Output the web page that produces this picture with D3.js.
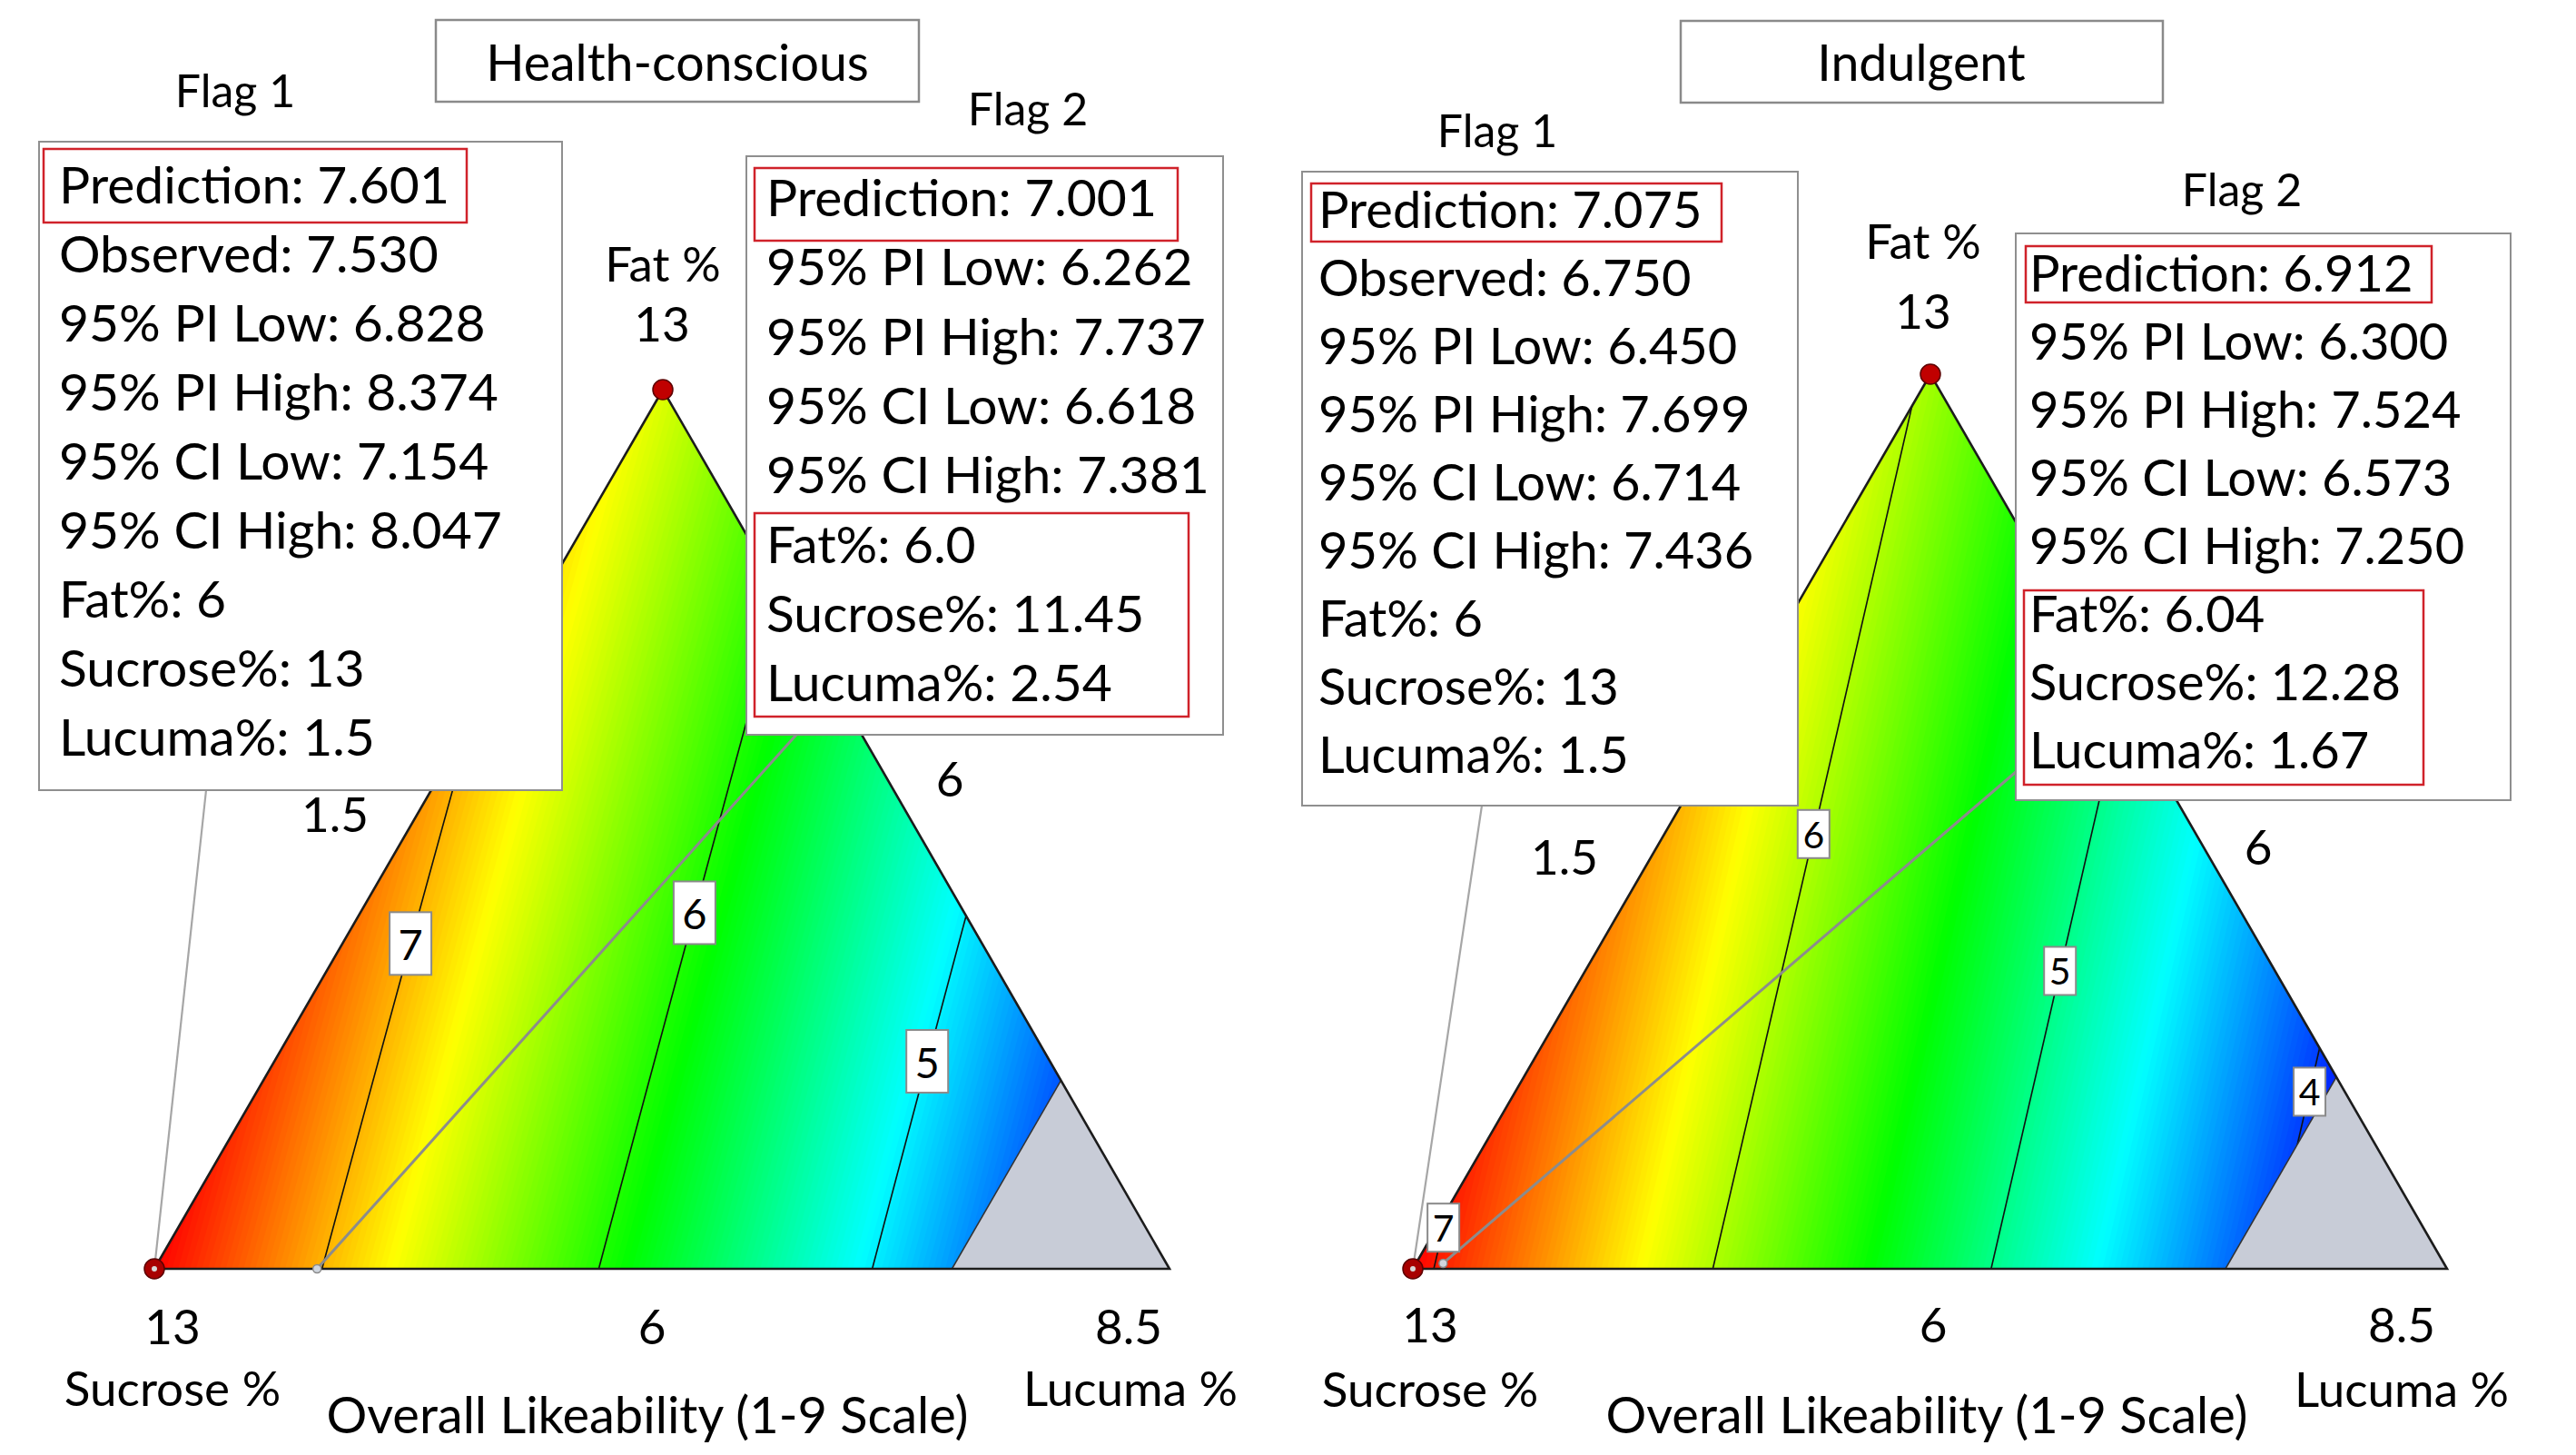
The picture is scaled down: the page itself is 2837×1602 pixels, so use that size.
<!DOCTYPE html>
<html>
<head>
<meta charset="utf-8">
<script src="https://cdn.jsdelivr.net/npm/d3@7"></script>
<style>
  body { margin: 0; background: #fff; }
  text { font-family: Lato, "Open Sans", sans-serif; fill: #000; }
</style>
</head>
<body>
<svg id="chart" width="2837" height="1602"></svg>
<script>
/* Mixture contour plots: Overall Likeability for two consumer segments */

// ---- data ----
var components = ["Fat", "Sucrose", "Lucuma"];
var compMin = [6, 6, 1.5];
var compMax = [13, 13, 8.5];
var lucumaLimit = 7;                       // design constraint, grey beyond it
var responseName = "Overall Likeability (1-9 Scale)";
var statNames = ["Prediction", "Observed", "95% PI Low", "95% PI High", "95% CI Low", "95% CI High"];

// Health-conscious: predicted likeability at pure blends (Fat, Sucrose, Lucuma) and binary midpoints
var hcBlend = [6.64, 7.60, 3.90];
var hcBinary = [7.12, 5.77, 5.27];         // Fat-Sucrose, Sucrose-Lucuma, Fat-Lucuma
var hcColorRange = [4.2, 7.60];            // blue .. red
var hcLevels = [7, 6, 5];
var hcFlag1Stats = [7.601, 7.530, 6.828, 8.374, 7.154, 8.047];
var hcFlag1Mix = [6, 13, 1.5];
var hcFlag2Stats = [7.001, null, 6.262, 7.737, 6.618, 7.381];
var hcFlag2Mix = [6.0, 11.45, 2.54];

// Indulgent
var inBlend = [5.96, 7.075, 3.356];
var inBinary = [6.52, 5.22, 4.66];
var inColorRange = [3.80, 7.075];
var inLevels = [7, 6, 5, 4];
var inFlag1Stats = [7.075, 6.750, 6.450, 7.699, 6.714, 7.436];
var inFlag1Mix = [6, 13, 1.5];
var inFlag2Stats = [6.912, null, 6.300, 7.524, 6.573, 7.250];
var inFlag2Mix = [6.04, 12.28, 1.67];

// ---- layout (pixels) ----
var hcLayout = {
  tri: [[730, 429], [170, 1397], [1288, 1397]],   // Fat apex, Sucrose, Lucuma
  labelRise: [0.37, 0.405, 0.236], labelBox: [46, 69], labelFont: 47,
  boxFont: 57,
  title: {box: [480, 22, 532, 90], x: 746, y: 89},
  flags: [
    {name: [259, 118], box: [43, 156, 576, 714], textX: 65, y0: 224, dy: 76,
     red: [[48, 164, 466, 81]], anchor: [227, 870], dec: [0, 0, 1]},
    {name: [1132, 138], box: [822, 172, 525, 637], textX: 844, y0: 238, dy: 76.3,
     red: [[831, 185, 466, 80], [831, 565, 478, 224]], anchor: [877, 809], dec: [1, 2, 2]}
  ],
  text: {fatName: [730, 310], fatTick: [729, 376], sucName: [190, 1548], sucTick: [190, 1480],
         lucName: [1245, 1548], lucTick: [1243, 1480], fatMin: [718, 1480], sucMin: [1046, 877],
         lucMin: [369, 916], response: [713, 1578]}
};
var inLayout = {
  tri: [[2126, 412], [1556, 1397], [2695, 1397]],
  labelRise: [0.046, 0.486, 0.333, 0.198], labelBox: [35, 53], labelFont: 41,
  boxFont: 56,
  title: {box: [1851, 23, 531, 90], x: 2116, y: 89},
  flags: [
    {name: [1649, 162], box: [1434, 189, 546, 698], textX: 1452, y0: 251, dy: 75,
     red: [[1444, 202, 452, 64]], anchor: [1632, 887], dec: [0, 0, 1]},
    {name: [2469, 227], box: [2220, 257, 545, 624], textX: 2235, y0: 321, dy: 75,
     red: [[2231, 271, 447, 62], [2229, 650, 440, 214]], anchor: [2220, 850], dec: [2, 2, 2]}
  ],
  text: {fatName: [2118, 285], fatTick: [2118, 362], sucName: [1575, 1549], sucTick: [1575, 1478],
         lucName: [2645, 1549], lucTick: [2645, 1478], fatMin: [2129, 1478], sucMin: [2487, 952],
         lucMin: [1723, 963], response: [2122, 1578]}
};

var panels = [
  {id: "hc", title: "Health-conscious", blend: hcBlend, binary: hcBinary, levels: hcLevels, colorRange: hcColorRange,
   flags: [{stats: hcFlag1Stats, mix: hcFlag1Mix}, {stats: hcFlag2Stats, mix: hcFlag2Mix}], layout: hcLayout},
  {id: "in", title: "Indulgent", blend: inBlend, binary: inBinary, levels: inLevels, colorRange: inColorRange,
   flags: [{stats: inFlag1Stats, mix: inFlag1Mix}, {stats: inFlag2Stats, mix: inFlag2Mix}], layout: inLayout}
];

var svg = d3.select("#chart");
var defs = svg.append("defs");
var colorStops = ["#0000ff", "#00ffff", "#00ff00", "#ffff00", "#ff0000"];
var limitW = (lucumaLimit - compMin[2]) / (compMax[2] - compMin[2]);

// pixel -> (fat, sucrose, lucuma) weights
function toWeights(tri, p) {
  var a = tri[0], b = tri[1], c = tri[2];
  var det = (b[1] - c[1]) * (a[0] - c[0]) + (c[0] - b[0]) * (a[1] - c[1]);
  var w1 = ((b[1] - c[1]) * (p[0] - c[0]) + (c[0] - b[0]) * (p[1] - c[1])) / det;
  var w2 = ((c[1] - a[1]) * (p[0] - c[0]) + (a[0] - c[0]) * (p[1] - c[1])) / det;
  return [w1, w2, 1 - w1 - w2];
}
function toPixel(tri, w) {
  return [w[0] * tri[0][0] + w[1] * tri[1][0] + w[2] * tri[2][0],
          w[0] * tri[0][1] + w[1] * tri[1][1] + w[2] * tri[2][1]];
}
// actual component % -> pseudo weights
function pseudo(mix) {
  var d = mix.map(function(v, i) { return v - compMin[i]; });
  var s = d3.sum(d);
  return d.map(function(v) { return v / s; });
}
// Scheffe quadratic through blend and binary values
function makeModel(blend, binary) {
  var b12 = 4 * (binary[0] - (blend[0] + blend[1]) / 2),
      b23 = 4 * (binary[1] - (blend[1] + blend[2]) / 2),
      b13 = 4 * (binary[2] - (blend[0] + blend[2]) / 2);
  return function(w) {
    return blend[0] * w[0] + blend[1] * w[1] + blend[2] * w[2]
      + b12 * w[0] * w[1] + b23 * w[1] * w[2] + b13 * w[0] * w[2];
  };
}

panels.forEach(function(pn) {
  var L = pn.layout, tri = L.tri, f = makeModel(pn.blend, pn.binary);
  var g = svg.append("g");

  var pBottom = toPixel(tri, [0, 1 - limitW, limitW]),
      pRight = toPixel(tri, [1 - limitW, 0, limitW]);
  var region = [tri[0], tri[1], pBottom, pRight];

  defs.append("clipPath").attr("id", "clip-" + pn.id)
    .append("polygon").attr("points", region.join(" "));

  // grid of predictions
  var step = 3, pad = 8;
  var x0 = d3.min(tri, function(d) { return d[0]; }) - pad,
      y0 = d3.min(tri, function(d) { return d[1]; }) - pad;
  var nx = Math.ceil((d3.max(tri, function(d) { return d[0]; }) + pad - x0) / step),
      ny = Math.ceil((d3.max(tri, function(d) { return d[1]; }) + pad - y0) / step);
  var values = new Float64Array(nx * ny);
  for (var j = 0; j < ny; j++) {
    for (var i = 0; i < nx; i++) {
      values[j * nx + i] = f(toWeights(tri, [x0 + (i + 0.5) * step, y0 + (j + 0.5) * step]));
    }
  }

  var lo = pn.colorRange[0], hi = pn.colorRange[1];
  var color = d3.scaleLinear()
    .domain(d3.range(5).map(function(k) { return lo + k * (hi - lo) / 4; }))
    .range(colorStops)
    .clamp(true);

  var path = d3.geoPath(d3.geoIdentity().scale(step).translate([x0, y0]));
  var nBands = 160;
  var bands = d3.range(nBands).map(function(k) { return lo + (hi - lo) * k / nBands; });
  bands[0] = lo - 10;

  var fill = g.append("g").attr("clip-path", "url(#clip-" + pn.id + ")");
  fill.selectAll("path")
    .data(d3.contours().size([nx, ny]).thresholds(bands)(values))
    .enter().append("path")
      .attr("d", path)
      .attr("fill", function(d, k) { return color(lo + (hi - lo) * (k + 0.5) / nBands); })
      .attr("stroke", "none");

  // excluded corner (Lucuma above limit)
  g.append("polygon")
    .attr("points", [pBottom, tri[2], pRight].join(" "))
    .attr("fill", "#c8ccd7");

  // contour lines
  g.append("g").attr("clip-path", "url(#clip-" + pn.id + ")")
    .selectAll("path")
    .data(d3.contours().size([nx, ny]).thresholds(pn.levels)(values))
    .enter().append("path")
      .attr("d", path)
      .attr("fill", "none")
      .attr("stroke", "#111")
      .attr("stroke-width", 1.6);

  g.append("line")
    .attr("x1", pBottom[0]).attr("y1", pBottom[1])
    .attr("x2", pRight[0]).attr("y2", pRight[1])
    .attr("stroke", "#333").attr("stroke-width", 1.5);

  g.append("polygon")
    .attr("points", tri.join(" "))
    .attr("fill", "none")
    .attr("stroke", "#1c1c1c")
    .attr("stroke-width", 2.6)
    .attr("stroke-linejoin", "miter");

  // flag 2 leader and point
  var fl2 = L.flags[1], p2 = toPixel(tri, pseudo(pn.flags[1].mix));
  g.append("line")
    .attr("x1", fl2.anchor[0]).attr("y1", fl2.anchor[1])
    .attr("x2", p2[0]).attr("y2", p2[1])
    .attr("stroke", "#8c8c8c").attr("stroke-width", 3);
  g.append("circle")
    .attr("cx", p2[0]).attr("cy", p2[1]).attr("r", 4.5)
    .attr("fill", "#d0d6de").attr("stroke", "#8a8a8a").attr("stroke-width", 1.5);

  // contour level labels
  pn.levels.forEach(function(level, k) {
    var y = tri[1][1] - L.labelRise[k] * (tri[1][1] - tri[0][1]);
    var t = (y - tri[0][1]) / (tri[1][1] - tri[0][1]);
    var a = tri[0][0] + t * (tri[1][0] - tri[0][0]),
        b = tri[0][0] + t * (tri[2][0] - tri[0][0]);
    for (var it = 0; it < 50; it++) {
      var m = (a + b) / 2;
      if (f(toWeights(tri, [m, y])) > level) a = m; else b = m;
    }
    var x = (a + b) / 2;
    g.append("rect")
      .attr("x", x - L.labelBox[0] / 2).attr("y", y - L.labelBox[1] / 2)
      .attr("width", L.labelBox[0]).attr("height", L.labelBox[1])
      .attr("fill", "#fff").attr("stroke", "#8a8a8a").attr("stroke-width", 2);
    g.append("text")
      .attr("x", x).attr("y", y)
      .attr("text-anchor", "middle").attr("dominant-baseline", "central")
      .style("font-size", L.labelFont + "px")
      .text(level);
  });

  // flag 1 leader
  var fl1 = L.flags[0], p1 = toPixel(tri, pseudo(pn.flags[0].mix));
  g.append("line")
    .attr("x1", fl1.anchor[0]).attr("y1", fl1.anchor[1])
    .attr("x2", p1[0]).attr("y2", p1[1])
    .attr("stroke", "#a6a6a6").attr("stroke-width", 2.2);

  // flag boxes
  pn.flags.forEach(function(fd, k) {
    var fl = L.flags[k];
    g.append("rect")
      .attr("x", fl.box[0]).attr("y", fl.box[1])
      .attr("width", fl.box[2]).attr("height", fl.box[3])
      .attr("fill", "#fff").attr("stroke", "#8f8f8f").attr("stroke-width", 2);
    var lines = [];
    fd.stats.forEach(function(v, i) {
      if (v !== null) lines.push(statNames[i] + ": " + v.toFixed(3));
    });
    fd.mix.forEach(function(v, i) {
      lines.push(components[i] + "%: " + v.toFixed(fl.dec[i]));
    });
    g.selectAll(null).data(lines).enter().append("text")
      .attr("x", fl.textX)
      .attr("y", function(d, i) { return fl.y0 + i * fl.dy; })
      .style("font-size", L.boxFont + "px")
      .text(function(d) { return d; });
    fl.red.forEach(function(r) {
      g.append("rect")
        .attr("x", r[0]).attr("y", r[1]).attr("width", r[2]).attr("height", r[3])
        .attr("fill", "none").attr("stroke", "#d0222a").attr("stroke-width", 2.5);
    });
    g.append("text")
      .attr("x", fl.name[0]).attr("y", fl.name[1])
      .attr("text-anchor", "middle")
      .style("font-size", "50px")
      .text("Flag " + (k + 1));
  });

  // design points: apex blend and flag 1
  g.append("circle")
    .attr("cx", tri[0][0]).attr("cy", tri[0][1]).attr("r", 11)
    .attr("fill", "#c00000").attr("stroke", "#5c0000").attr("stroke-width", 1.5);
  g.append("circle")
    .attr("cx", p1[0]).attr("cy", p1[1]).attr("r", 11)
    .attr("fill", "#a80000").attr("stroke", "#5c0000").attr("stroke-width", 1.5);
  g.append("circle")
    .attr("cx", p1[0]).attr("cy", p1[1]).attr("r", 3)
    .attr("fill", "#d8d8d8");

  // title box
  g.append("rect")
    .attr("x", L.title.box[0]).attr("y", L.title.box[1])
    .attr("width", L.title.box[2]).attr("height", L.title.box[3])
    .attr("fill", "#fff").attr("stroke", "#8a8a8a").attr("stroke-width", 2.5);
  g.append("text")
    .attr("x", L.title.x).attr("y", L.title.y)
    .attr("text-anchor", "middle")
    .style("font-size", "55.5px")
    .text(pn.title);

  // axis labels
  var T = L.text;
  var axisText = [
    [T.fatName, components[0] + " %"], [T.fatTick, compMax[0]],
    [T.sucName, components[1] + " %"], [T.sucTick, compMax[1]],
    [T.lucName, components[2] + " %"], [T.lucTick, compMax[2]],
    [T.fatMin, compMin[0]], [T.sucMin, compMin[1]], [T.lucMin, compMin[2]],
    [T.response, responseName]
  ];
  g.selectAll(null).data(axisText).enter().append("text")
    .attr("x", function(d) { return d[0][0]; })
    .attr("y", function(d) { return d[0][1]; })
    .attr("text-anchor", "middle")
    .style("font-size", function(d, i) { return i === 9 ? "56px" : "53px"; })
    .text(function(d) { return d[1]; });
});
</script>
</body>
</html>
